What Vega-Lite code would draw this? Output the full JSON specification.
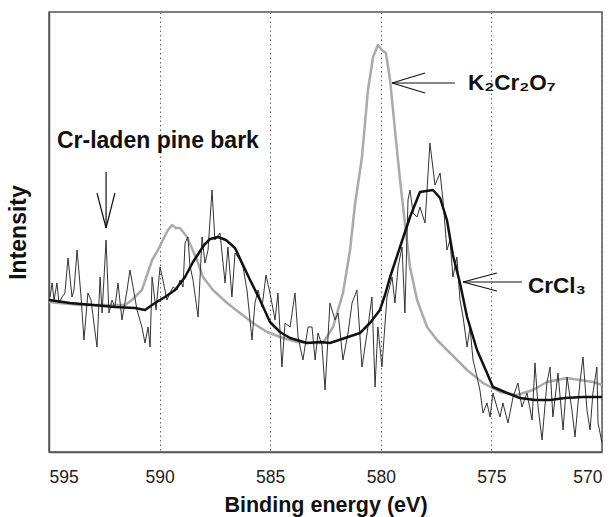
{
  "$schema": "https://vega.github.io/schema/vega-lite/v6.json",
  "width": 553,
  "height": 440,
  "autosize": {"type": "none"},
  "padding": {"left": 49, "top": 12, "right": 13, "bottom": 65},
  "background": "white",
  "config": {
    "view": {"stroke": "#555", "strokeWidth": 1.5},
    "font": "Liberation Sans"
  },
  "datasets": {
    "k2cr2o7": [
      {"E": 595.00, "I": 150}, {"E": 593.60, "I": 147}, {"E": 592.24, "I": 147}, {"E": 591.56, "I": 147},
      {"E": 591.25, "I": 152}, {"E": 590.80, "I": 162}, {"E": 590.34, "I": 192}, {"E": 590.07, "I": 202},
      {"E": 589.85, "I": 212}, {"E": 589.62, "I": 222}, {"E": 589.44, "I": 227}, {"E": 589.26, "I": 224},
      {"E": 589.08, "I": 224}, {"E": 588.76, "I": 215}, {"E": 588.31, "I": 192}, {"E": 588.04, "I": 175},
      {"E": 587.59, "I": 162}, {"E": 586.95, "I": 149}, {"E": 586.37, "I": 139}, {"E": 585.78, "I": 129},
      {"E": 585.14, "I": 120}, {"E": 584.56, "I": 115}, {"E": 583.79, "I": 110}, {"E": 583.07, "I": 109},
      {"E": 582.61, "I": 109}, {"E": 582.16, "I": 125}, {"E": 581.71, "I": 159}, {"E": 581.39, "I": 202},
      {"E": 581.17, "I": 247}, {"E": 580.85, "I": 295}, {"E": 580.58, "I": 362}, {"E": 580.35, "I": 395},
      {"E": 580.13, "I": 407}, {"E": 579.95, "I": 402}, {"E": 579.77, "I": 399}, {"E": 579.58, "I": 372},
      {"E": 579.36, "I": 322}, {"E": 579.13, "I": 272}, {"E": 578.91, "I": 229}, {"E": 578.68, "I": 185},
      {"E": 578.36, "I": 152}, {"E": 577.91, "I": 125}, {"E": 577.46, "I": 112}, {"E": 576.87, "I": 99},
      {"E": 576.10, "I": 82}, {"E": 575.38, "I": 69}, {"E": 574.61, "I": 60}, {"E": 573.84, "I": 57},
      {"E": 573.12, "I": 62}, {"E": 572.49, "I": 70}, {"E": 571.58, "I": 74}, {"E": 570.41, "I": 70},
      {"E": 570.00, "I": 67}
    ],
    "bark": [
      {"E": 594.95, "I": 155}, {"E": 594.86, "I": 169}, {"E": 594.77, "I": 152}, {"E": 594.64, "I": 169},
      {"E": 594.55, "I": 149}, {"E": 594.41, "I": 155}, {"E": 594.28, "I": 159}, {"E": 594.14, "I": 194},
      {"E": 593.96, "I": 155}, {"E": 593.87, "I": 162}, {"E": 593.73, "I": 202}, {"E": 593.55, "I": 155},
      {"E": 593.42, "I": 112}, {"E": 593.24, "I": 159}, {"E": 593.10, "I": 152}, {"E": 592.97, "I": 129},
      {"E": 592.83, "I": 105}, {"E": 592.69, "I": 175}, {"E": 592.60, "I": 139}, {"E": 592.42, "I": 212},
      {"E": 592.29, "I": 139}, {"E": 592.15, "I": 152}, {"E": 592.02, "I": 145}, {"E": 591.88, "I": 169},
      {"E": 591.70, "I": 132}, {"E": 591.47, "I": 162}, {"E": 591.34, "I": 182}, {"E": 591.20, "I": 165},
      {"E": 591.02, "I": 142}, {"E": 590.80, "I": 125}, {"E": 590.66, "I": 109}, {"E": 590.52, "I": 125},
      {"E": 590.43, "I": 105}, {"E": 590.34, "I": 175}, {"E": 590.16, "I": 142}, {"E": 589.98, "I": 185},
      {"E": 589.85, "I": 172}, {"E": 589.67, "I": 152}, {"E": 589.53, "I": 159}, {"E": 589.39, "I": 165},
      {"E": 589.21, "I": 162}, {"E": 589.08, "I": 172}, {"E": 588.94, "I": 165}, {"E": 588.85, "I": 209},
      {"E": 588.72, "I": 215}, {"E": 588.63, "I": 187}, {"E": 588.49, "I": 172}, {"E": 588.26, "I": 135},
      {"E": 588.08, "I": 215}, {"E": 587.95, "I": 189}, {"E": 587.81, "I": 202}, {"E": 587.63, "I": 262},
      {"E": 587.50, "I": 212}, {"E": 587.27, "I": 219}, {"E": 587.04, "I": 169}, {"E": 586.91, "I": 205},
      {"E": 586.73, "I": 155}, {"E": 586.59, "I": 199}, {"E": 586.37, "I": 192}, {"E": 586.23, "I": 185},
      {"E": 586.05, "I": 162}, {"E": 585.82, "I": 112}, {"E": 585.69, "I": 149}, {"E": 585.55, "I": 162},
      {"E": 585.37, "I": 145}, {"E": 585.19, "I": 177}, {"E": 585.01, "I": 159}, {"E": 584.78, "I": 132},
      {"E": 584.65, "I": 159}, {"E": 584.47, "I": 85}, {"E": 584.33, "I": 129}, {"E": 584.10, "I": 125},
      {"E": 583.88, "I": 159}, {"E": 583.74, "I": 115}, {"E": 583.52, "I": 92}, {"E": 583.29, "I": 125},
      {"E": 583.11, "I": 125}, {"E": 582.97, "I": 92}, {"E": 582.84, "I": 119}, {"E": 582.66, "I": 107},
      {"E": 582.52, "I": 62}, {"E": 582.30, "I": 149}, {"E": 582.07, "I": 132}, {"E": 581.93, "I": 139},
      {"E": 581.71, "I": 92}, {"E": 581.48, "I": 119}, {"E": 581.30, "I": 149}, {"E": 581.08, "I": 162},
      {"E": 580.85, "I": 85}, {"E": 580.62, "I": 119}, {"E": 580.40, "I": 155}, {"E": 580.26, "I": 65},
      {"E": 580.13, "I": 125}, {"E": 579.95, "I": 85}, {"E": 579.72, "I": 155}, {"E": 579.49, "I": 175},
      {"E": 579.36, "I": 149}, {"E": 579.22, "I": 185}, {"E": 579.04, "I": 205}, {"E": 578.91, "I": 139},
      {"E": 578.77, "I": 252}, {"E": 578.68, "I": 262}, {"E": 578.54, "I": 239}, {"E": 578.36, "I": 235},
      {"E": 578.23, "I": 245}, {"E": 578.00, "I": 229}, {"E": 577.78, "I": 309}, {"E": 577.55, "I": 267},
      {"E": 577.32, "I": 279}, {"E": 577.19, "I": 252}, {"E": 577.01, "I": 202}, {"E": 576.87, "I": 212},
      {"E": 576.74, "I": 175}, {"E": 576.56, "I": 195}, {"E": 576.42, "I": 152}, {"E": 576.28, "I": 135},
      {"E": 576.10, "I": 105}, {"E": 575.97, "I": 125}, {"E": 575.83, "I": 92}, {"E": 575.65, "I": 75},
      {"E": 575.52, "I": 62}, {"E": 575.38, "I": 39}, {"E": 575.20, "I": 49}, {"E": 575.06, "I": 35},
      {"E": 574.93, "I": 59}, {"E": 574.75, "I": 45}, {"E": 574.61, "I": 35}, {"E": 574.48, "I": 49},
      {"E": 574.25, "I": 29}, {"E": 574.02, "I": 55}, {"E": 573.80, "I": 69}, {"E": 573.62, "I": 45},
      {"E": 573.39, "I": 59}, {"E": 573.16, "I": 32}, {"E": 573.03, "I": 89}, {"E": 572.89, "I": 45},
      {"E": 572.71, "I": 12}, {"E": 572.49, "I": 69}, {"E": 572.35, "I": 85}, {"E": 572.22, "I": 35},
      {"E": 571.99, "I": 79}, {"E": 571.76, "I": 22}, {"E": 571.58, "I": 75}, {"E": 571.36, "I": 42},
      {"E": 571.22, "I": 15}, {"E": 571.00, "I": 69}, {"E": 570.86, "I": 95}, {"E": 570.68, "I": 42},
      {"E": 570.54, "I": 22}, {"E": 570.41, "I": 59}, {"E": 570.23, "I": 85}, {"E": 570.18, "I": 29},
      {"E": 570.00, "I": 9}
    ],
    "crcl3": [
      {"E": 595.00, "I": 152}, {"E": 594.05, "I": 149}, {"E": 593.01, "I": 147}, {"E": 592.02, "I": 145},
      {"E": 591.11, "I": 144}, {"E": 590.66, "I": 142}, {"E": 590.21, "I": 149}, {"E": 589.76, "I": 155},
      {"E": 589.30, "I": 162}, {"E": 588.85, "I": 175}, {"E": 588.49, "I": 190}, {"E": 587.99, "I": 207},
      {"E": 587.72, "I": 213}, {"E": 587.36, "I": 215}, {"E": 587.00, "I": 212}, {"E": 586.59, "I": 204},
      {"E": 586.23, "I": 187}, {"E": 585.91, "I": 172}, {"E": 585.46, "I": 152}, {"E": 585.01, "I": 130},
      {"E": 584.56, "I": 120}, {"E": 584.10, "I": 114}, {"E": 583.34, "I": 109}, {"E": 582.75, "I": 110},
      {"E": 582.30, "I": 109}, {"E": 581.62, "I": 114}, {"E": 580.94, "I": 119}, {"E": 580.49, "I": 129},
      {"E": 580.04, "I": 142}, {"E": 579.81, "I": 157}, {"E": 579.58, "I": 175}, {"E": 579.13, "I": 205},
      {"E": 578.68, "I": 235}, {"E": 578.23, "I": 260}, {"E": 577.64, "I": 262}, {"E": 577.32, "I": 254},
      {"E": 577.01, "I": 232}, {"E": 576.74, "I": 197}, {"E": 576.42, "I": 169}, {"E": 576.10, "I": 135},
      {"E": 575.65, "I": 102}, {"E": 575.20, "I": 79}, {"E": 574.93, "I": 65}, {"E": 574.29, "I": 59},
      {"E": 573.71, "I": 54}, {"E": 573.03, "I": 52}, {"E": 572.35, "I": 52}, {"E": 571.67, "I": 54},
      {"E": 570.86, "I": 55}, {"E": 570.00, "I": 55}
    ],
    "arrows": [
      {"E": 592.42, "I": 280, "E2": 592.42, "I2": 224},
      {"E": 592.83, "I": 259, "E2": 592.42, "I2": 224},
      {"E": 592.02, "I": 259, "E2": 592.42, "I2": 224},
      {"E": 579.49, "I": 369, "E2": 576.65, "I2": 369},
      {"E": 579.49, "I": 369, "E2": 578.00, "I2": 379},
      {"E": 579.49, "I": 369, "E2": 578.00, "I2": 359},
      {"E": 576.28, "I": 170, "E2": 573.62, "I2": 170},
      {"E": 576.28, "I": 170, "E2": 574.75, "I2": 179},
      {"E": 576.28, "I": 170, "E2": 574.75, "I2": 161}
    ],
    "sample": [
      {"E": 594.64, "I": 304, "label": "Cr-laden pine bark"}
    ],
    "formulas": [
      {"E": 576.06, "I": 362, "label": "K₂Cr₂O₇"},
      {"E": 573.35, "I": 159, "label": "CrCl₃"}
    ]
  },
  "encoding": {
    "x": {
      "field": "E", "type": "quantitative",
      "scale": {"domain": [570, 595], "reverse": true, "nice": false, "zero": false},
      "axis": {
        "values": [595, 590, 585, 580, 575, 570],
        "title": "Binding energy (eV)",
        "titleFont": "Liberation Sans", "titleFontSize": 21.5, "titleFontWeight": "bold", "titleColor": "#111",
        "titlePadding": 9,
        "labelFont": "Liberation Sans", "labelFontSize": 17.5, "labelColor": "#222", "labelPadding": 16,
        "ticks": false, "domain": true, "domainColor": "#555", "domainWidth": 1.5,
        "grid": true, "gridColor": "#666", "gridDash": [1.5, 3], "gridWidth": 1,
        "format": "d"
      }
    },
    "y": {
      "field": "I", "type": "quantitative",
      "scale": {"domain": [0, 440], "nice": false, "zero": false},
      "axis": {
        "title": "Intensity", "labels": false, "ticks": false, "grid": false,
        "domain": true, "domainColor": "#555", "domainWidth": 1.5,
        "titleFont": "Liberation Sans", "titleFontSize": 23, "titleFontWeight": "bold", "titleColor": "#111",
        "titlePadding": 19
      }
    }
  },
  "layer": [
    {
      "data": {"name": "k2cr2o7"},
      "mark": {"type": "line", "color": "#aaaaaa", "strokeWidth": 2.5, "strokeJoin": "round"}
    },
    {
      "data": {"name": "bark"},
      "mark": {"type": "line", "color": "#333333", "strokeWidth": 1, "strokeJoin": "round"}
    },
    {
      "data": {"name": "crcl3"},
      "mark": {"type": "line", "color": "#111111", "strokeWidth": 2.5, "strokeJoin": "round"}
    },
    {
      "data": {"name": "arrows"},
      "mark": {"type": "rule", "color": "#111", "strokeWidth": 1.2},
      "encoding": {
        "x2": {"field": "E2"},
        "y2": {"field": "I2"}
      }
    },
    {
      "data": {"name": "sample"},
      "mark": {"type": "text", "align": "left", "baseline": "alphabetic", "font": "Liberation Sans", "fontSize": 23, "fontWeight": "bold", "color": "#111"},
      "encoding": {"text": {"field": "label"}}
    },
    {
      "data": {"name": "formulas"},
      "mark": {"type": "text", "align": "left", "baseline": "alphabetic", "font": "Liberation Sans", "fontSize": 22.5, "fontWeight": "bold", "color": "#111"},
      "encoding": {"text": {"field": "label"}}
    }
  ]
}
